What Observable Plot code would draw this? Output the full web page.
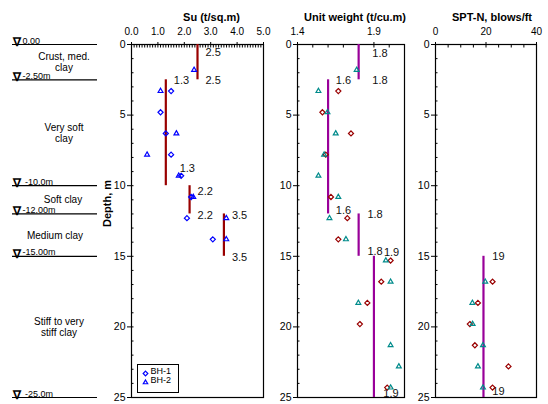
<!DOCTYPE html>
<html><head><meta charset="utf-8">
<script src="https://cdn.jsdelivr.net/npm/d3@7"></script>
<script src="https://cdn.jsdelivr.net/npm/@observablehq/plot@0.6"></script>
<style>
body{margin:0;background:#fff;}
#chart{position:relative;width:548px;height:404px;overflow:hidden;background:#fff;}
#chart svg{position:absolute;top:0;}
</style></head><body><div id="chart"></div>
<script>
const FONT = "'Liberation Sans', Arial, Helvetica, sans-serif";

// ---- soil profile ----
const layerBounds = [0, 2.5, 10, 12, 15, 25];
const boundLabels = ["0.00", "-2.50m", " -10.0m", "-12.00m", "-15.00m", " -25.0m"];
const layerNames = ["Crust, med.\nclay", "Very soft\nclay", "Soft clay", "Medium clay", "Stiff to very\nstiff clay"];

// ---- Su (t/sq.m) ----
const suDesignTop = [0, 2.5, 10, 12];
const suDesignBot = [2.5, 10, 12, 15];
const suDesign = [2.5, 1.3, 2.2, 3.5];
const suAnnText = ["2.5", "2.5", "1.3", "1.3", "2.2", "2.2", "3.5", "3.5"];
const suAnnX = [2.5, 2.5, 1.3, 1.52, 2.2, 2.2, 3.5, 3.5];
const suAnnDepth = [0.55, 2.55, 2.55, 8.8, 10.4, 12.1, 12.1, 15.05];
const suBH1Depth = [3.3, 4.8, 6.3, 7.8, 9.3, 10.8, 12.3, 13.8];
const suBH1 = [1.5, 1.1, 1.3, 1.5, 1.88, 2.26, 2.1, 3.08];
const suBH2Depth = [1.8, 3.3, 6.3, 7.8, 9.3, 10.8, 12.3, 13.8];
const suBH2 = [2.37, 1.1, 1.7, 0.59, 1.79, 2.34, 3.59, 3.59];

// ---- Unit weight (t/cu.m) ----
const uwDesignTop = [0, 2.5, 12, 15];
const uwDesignBot = [2.5, 12, 15, 25];
const uwDesign = [1.8, 1.6, 1.8, 1.9];
const uwAnnText = ["1.8", "1.8", "1.6", "1.6", "1.8", "1.8", "1.9", "1.9"];
const uwAnnX = [1.837, 1.837, 1.598, 1.598, 1.805, 1.805, 1.913, 1.909];
const uwAnnDepth = [0.6, 2.55, 2.55, 11.76, 12.04, 14.65, 14.7, 24.74];
const uwBH1Depth = [3.3, 4.8, 6.3, 7.8, 10.8, 12.3, 13.8, 15.3, 16.8, 18.3, 19.8, 24.3];
const uwBH1 = [1.667, 1.563, 1.75, 1.585, 1.619, 1.726, 1.667, 2.009, 1.948, 1.857, 1.808, 1.987];
const uwBH2Depth = [1.8, 3.3, 4.8, 6.3, 7.8, 9.3, 10.8, 12.3, 13.8, 15.3, 16.8, 18.3, 21.3, 22.8, 24.3];
const uwBH2 = [1.787, 1.537, 1.596, 1.65, 1.574, 1.537, 1.667, 1.609, 1.717, 1.978, 2.009, 1.798, 2.009, 2.063, 2.009];

// ---- SPT-N, blows/ft ----
const sptDesignTop = [15];
const sptDesignBot = [25];
const sptDesign = [19];
const sptAnnText = ["19", "19"];
const sptAnnX = [19.35, 19.35];
const sptAnnDepth = [15.0, 24.6];
const sptBH1Depth = [16.8, 18.3, 19.8, 21.3, 22.8, 24.3];
const sptBH1 = [22.6, 16.8, 13.6, 15.6, 28.9, 22.6];
const sptBH2Depth = [16.8, 18.3, 19.8, 21.3, 22.8, 24.3];
const sptBH2 = [19.7, 14.6, 14.7, 18.8, 16.8, 18.8];

const depthMajor = [0, 5, 10, 15, 20, 25];
const depthMinor = d3.range(0, 26, 1);

const zip = (ds, vs) => ds.map((d, i) => ({depth: d, v: vs[i]}));
const segs = (t, b, v) => v.map((x, i) => ({top: t[i], bot: b[i], v: x}));
const anns = (txt, xs, ds) => txt.map((t, i) => ({t, x: xs[i], depth: ds[i]}));

const chart = document.getElementById("chart");
const H = 404, MT = 44, MB = 7;
const baseStyle = {fontFamily: FONT, fontSize: "10px", background: "transparent", overflow: "visible", color: "#000"};

function panel({left, width, mL, mR, xDomain, majorX, minorX, fmt, title, titleDx, lineColor, bh1Color, bh2Color,
                design, ann, bh1, bh2, extra = []}) {
  const svg = Plot.plot({
    width, height: H, marginTop: MT, marginBottom: MB, marginLeft: mL, marginRight: mR,
    style: baseStyle,
    x: {domain: xDomain},
    y: {domain: [0, 25], reverse: true},
    marks: [
      Plot.axisX({anchor: "top", ticks: majorX, tickSize: 3, tickPadding: 7, tickFormat: fmt, label: null, fontSize: 10}),
      Plot.axisX({anchor: "top", ticks: minorX, tickSize: -2.5, tickFormat: () => "", label: null}),
      Plot.axisY({anchor: "left", ticks: depthMajor, tickSize: 4, tickPadding: 2, label: null, fontSize: 10.5}),
      Plot.axisY({anchor: "left", ticks: depthMinor, tickSize: -2.5, tickFormat: () => "", label: null}),
      Plot.frame({stroke: "#000", strokeWidth: 1.2}),
      Plot.ruleX(design, {x: "v", y1: "top", y2: "bot", stroke: lineColor, strokeWidth: 2.2}),
      Plot.text(ann, {x: "x", y: "depth", text: "t", textAnchor: "start", dx: 8, fontSize: 11, fill: "#111"}),
      Plot.dot(bh1, {x: "v", y: "depth", symbol: "diamond2", r: 2.3, stroke: bh1Color, strokeWidth: 1.2, fill: "none"}),
      Plot.dot(bh2, {x: "v", y: "depth", symbol: "triangle2", r: 2.3, stroke: bh2Color, strokeWidth: 1.2, fill: "none"}),
      Plot.text([title], {text: d => d, frameAnchor: "top", dx: titleDx, dy: -31, fontWeight: "bold", fontSize: 11}),
      ...extra
    ]
  });
  svg.style.left = left + "px";
  chart.appendChild(svg);
}

// Soil column
{
  const layers = layerNames.map((n, i) => ({name: n, mid: (layerBounds[i] + layerBounds[i + 1]) / 2}));
  const nameDx = [9, 9, 8, 0, 4];
  const svg = Plot.plot({
    width: 100, height: H, marginTop: MT, marginBottom: MB, marginLeft: 12, marginRight: 3,
    style: baseStyle,
    x: {domain: [0, 1], axis: null},
    y: {domain: [0, 25], reverse: true, axis: null},
    marks: [
      Plot.ruleY(layerBounds, {y: d => d, stroke: "#000", strokeWidth: 1.2}),
      Plot.text(layerBounds, {y: d => d, text: () => "\u2207", frameAnchor: "left", textAnchor: "start", lineAnchor: "bottom", dx: 0, dy: 1.5, fontSize: 11.5, fontWeight: "bold"}),
      Plot.text(layerBounds, {y: d => d, text: (d, i) => boundLabels[i], frameAnchor: "left", textAnchor: "start", lineAnchor: "bottom", dx: 10, dy: -1, fontSize: 9}),
      ...layers.map((l, i) => Plot.text([l], {y: "mid", text: "name", frameAnchor: "middle", dx: nameDx[i], fontSize: 10, lineHeight: 1.1}))
    ]
  });
  svg.style.left = "0px";
  chart.appendChild(svg);
}

// Su panel
panel({
  left: 100, width: 170, mL: 31, mR: 7, xDomain: [0, 5],
  majorX: d3.range(0, 5.01, 1), minorX: d3.range(0, 5.001, 0.1), fmt: d3.format(".1f"),
  title: "Su (t/sq.m)", titleDx: 14, lineColor: "#990000", bh1Color: "#0000ff", bh2Color: "#0000ff",
  design: segs(suDesignTop, suDesignBot, suDesign), ann: anns(suAnnText, suAnnX, suAnnDepth),
  bh1: zip(suBH1Depth, suBH1), bh2: zip(suBH2Depth, suBH2),
  extra: [
    Plot.text(["Depth, m"], {text: d => d, frameAnchor: "left", rotate: -90, dx: -24, dy: 6, fontWeight: "bold", fontSize: 11}),
    Plot.frame({insetLeft: 6, insetRight: 85, insetTop: 320, insetBottom: 5, stroke: "#000", strokeWidth: 1}),
    Plot.dot(["BH-1"], {frameAnchor: "bottom-left", dx: 14, dy: -24, symbol: "diamond2", r: 2.1, stroke: "#0000ff", strokeWidth: 1.2, fill: "none"}),
    Plot.dot(["BH-2"], {frameAnchor: "bottom-left", dx: 14, dy: -15, symbol: "triangle2", r: 2.1, stroke: "#0000ff", strokeWidth: 1.2, fill: "none"}),
    Plot.text(["BH-1"], {text: d => d, frameAnchor: "bottom-left", dx: 19, dy: -24, textAnchor: "start", fontSize: 9}),
    Plot.text(["BH-2"], {text: d => d, frameAnchor: "bottom-left", dx: 19, dy: -15, textAnchor: "start", fontSize: 9})
  ]
});

// Unit weight panel
panel({
  left: 270, width: 140, mL: 27, mR: 6, xDomain: [1.4, 2.1],
  majorX: [1.4, 1.9], minorX: d3.range(1.4, 2.101, 0.1), fmt: d3.format(".1f"),
  title: "Unit weight (t/cu.m)", titleDx: 4, lineColor: "#990099", bh1Color: "#990000", bh2Color: "#008b8b",
  design: segs(uwDesignTop, uwDesignBot, uwDesign), ann: anns(uwAnnText, uwAnnX, uwAnnDepth),
  bh1: zip(uwBH1Depth, uwBH1), bh2: zip(uwBH2Depth, uwBH2)
});

// SPT panel
panel({
  left: 410, width: 138, mL: 25, mR: 12, xDomain: [0, 40],
  majorX: [0, 20, 40], minorX: d3.range(0, 41, 5), fmt: d3.format("d"),
  title: "SPT-N, blows/ft", titleDx: 6, lineColor: "#990099", bh1Color: "#990000", bh2Color: "#008b8b",
  design: segs(sptDesignTop, sptDesignBot, sptDesign), ann: anns(sptAnnText, sptAnnX, sptAnnDepth),
  bh1: zip(sptBH1Depth, sptBH1), bh2: zip(sptBH2Depth, sptBH2)
});
</script></body></html>
